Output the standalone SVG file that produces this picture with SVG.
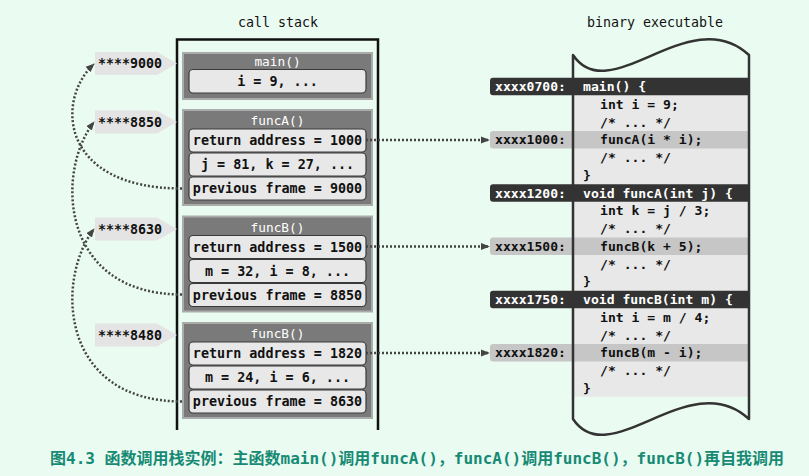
<svg xmlns="http://www.w3.org/2000/svg" width="809" height="476" viewBox="0 0 809 476">
<defs>
<marker id="arr" viewBox="0 0 10 10" refX="9" refY="5" markerWidth="9" markerHeight="9" markerUnits="userSpaceOnUse" orient="auto"><path d="M0,1 L10,5 L0,9 z" fill="#444"/></marker>
<style>
.m{font-family:"DejaVu Sans Mono","Liberation Mono",monospace}
.title{font-size:13.3px;fill:#111;text-anchor:middle}
.frame{fill:#7a7a7a;stroke:#ababab;stroke-width:2}
.hdr{font-size:12.8px;fill:#fff;text-anchor:middle}
.box{fill:#e8e8e8;stroke:#3a3a3a;stroke-width:1.2}
.row{font-size:13.4px;font-weight:bold;fill:#111;text-anchor:middle}
.lblbg{fill:#e4e4e4}
.lbl{font-size:13.3px;font-weight:bold;fill:#111}
.code{font-size:13.1px;font-weight:bold;fill:#111}
.w{fill:#fff}
.dark{fill:#333}
.hl{fill:#c6c6c6}
.dot{fill:none;stroke:#444;stroke-width:2.5;stroke-dasharray:2 2}
.cap{font-family:"DejaVu Sans Mono","Noto Sans CJK SC",monospace;font-size:16px;font-weight:bold;fill:#178a74}
</style>
</defs>
<rect width="809" height="476" fill="#eafbf2"/>

<text class="m title" x="278" y="27">call stack</text>
<text class="m title" x="655" y="27">binary executable</text>

<g id="stack-box">
<path d="M177,430 V39.5 H378 V430" fill="none" stroke="#111" stroke-width="2.5"/>
</g>

<g id="addr-9000"><polygon class="lblbg" points="95,52 157,52 177,63.5 157,75 95,75"/><text class="m lbl" x="98" y="68">****9000</text></g>
<g id="addr-8850"><polygon class="lblbg" points="95,110.5 157,110.5 177,122 157,133.5 95,133.5"/><text class="m lbl" x="98" y="126.5">****8850</text></g>
<g id="addr-8630"><polygon class="lblbg" points="95,217.5 157,217.5 177,229 157,240.5 95,240.5"/><text class="m lbl" x="98" y="233.5">****8630</text></g>
<g id="addr-8480"><polygon class="lblbg" points="95,323.5 157,323.5 177,335 157,346.5 95,346.5"/><text class="m lbl" x="98" y="339.5">****8480</text></g>

<g id="frame-main">
<rect class="frame" x="183" y="53" width="189" height="46"/>
<text class="m hdr" x="277.5" y="66">main()</text>
<rect class="box" x="189" y="69.5" width="177" height="23.5" rx="4"/>
<text class="m row" x="277.5" y="86">i = 9, ...</text>
</g>

<g id="frame-funcA">
<rect class="frame" x="183" y="110" width="189" height="95"/>
<text class="m hdr" x="277.5" y="125">funcA()</text>
<rect class="box" x="189" y="129" width="177" height="23" rx="4"/>
<text class="m row" x="277.5" y="145">return address = 1000</text>
<rect class="box" x="189" y="153" width="177" height="23" rx="4"/>
<text class="m row" x="277.5" y="169">j = 81, k = 27, ...</text>
<rect class="box" x="189" y="177" width="177" height="23" rx="4"/>
<text class="m row" x="277.5" y="193">previous frame = 9000</text>
</g>

<g id="frame-funcB">
<rect class="frame" x="183" y="216.5" width="189" height="95"/>
<text class="m hdr" x="277.5" y="231.5">funcB()</text>
<rect class="box" x="189" y="235.5" width="177" height="23" rx="4"/>
<text class="m row" x="277.5" y="251.5">return address = 1500</text>
<rect class="box" x="189" y="259.5" width="177" height="23" rx="4"/>
<text class="m row" x="277.5" y="275.5">m = 32, i = 8, ...</text>
<rect class="box" x="189" y="283.5" width="177" height="23" rx="4"/>
<text class="m row" x="277.5" y="299.5">previous frame = 8850</text>
</g>

<g id="frame-funcB2">
<rect class="frame" x="183" y="323" width="189" height="95"/>
<text class="m hdr" x="277.5" y="338">funcB()</text>
<rect class="box" x="189" y="342" width="177" height="23" rx="4"/>
<text class="m row" x="277.5" y="358">return address = 1820</text>
<rect class="box" x="189" y="366" width="177" height="23" rx="4"/>
<text class="m row" x="277.5" y="382">m = 24, i = 6, ...</text>
<rect class="box" x="189" y="390" width="177" height="23" rx="4"/>
<text class="m row" x="277.5" y="406">previous frame = 8630</text>
</g>

<g id="binary-executable">
<rect x="573" y="77.75" width="176" height="319" fill="#e8e8e8"/>
<path class="dark" d="M749,77.75 H493 a3,3 0 0 0 -3,3 V92.25 a3,3 0 0 0 3,3 H749 Z"/>
<path class="hl" d="M749,131 H493 a3,3 0 0 0 -3,3 V145.5 a3,3 0 0 0 3,3 H749 Z"/>
<path class="dark" d="M749,184.25 H493 a3,3 0 0 0 -3,3 V198.75 a3,3 0 0 0 3,3 H749 Z"/>
<path class="hl" d="M749,237.5 H493 a3,3 0 0 0 -3,3 V252 a3,3 0 0 0 3,3 H749 Z"/>
<path class="dark" d="M749,290.75 H493 a3,3 0 0 0 -3,3 V305.25 a3,3 0 0 0 3,3 H749 Z"/>
<path class="hl" d="M749,344 H493 a3,3 0 0 0 -3,3 V358.5 a3,3 0 0 0 3,3 H749 Z"/>
<path d="M573,419 V55 C610,110 690,0 749,55 V419 C690,364 610,474 573,419 Z" fill="none" stroke="#333" stroke-width="2.5" stroke-linejoin="round"/>
<text class="m code w" x="495" y="91">xxxx0700:</text><text class="m code w" x="583" y="91">main() {</text>
<text class="m code" x="600" y="108.75">int i = 9;</text>
<text class="m code" x="600" y="126.5">/* ... */</text>
<text class="m code" x="495" y="144.25">xxxx1000:</text><text class="m code" x="600" y="144.25">funcA(i * i);</text>
<text class="m code" x="600" y="162">/* ... */</text>
<text class="m code" x="583" y="179.75">}</text>
<text class="m code w" x="495" y="197.5">xxxx1200:</text><text class="m code w" x="583" y="197.5">void funcA(int j) {</text>
<text class="m code" x="600" y="215.25">int k = j / 3;</text>
<text class="m code" x="600" y="233">/* ... */</text>
<text class="m code" x="495" y="250.75">xxxx1500:</text><text class="m code" x="600" y="250.75">funcB(k + 5);</text>
<text class="m code" x="600" y="268.5">/* ... */</text>
<text class="m code" x="583" y="286.25">}</text>
<text class="m code w" x="495" y="304">xxxx1750:</text><text class="m code w" x="583" y="304">void funcB(int m) {</text>
<text class="m code" x="600" y="321.75">int i = m / 4;</text>
<text class="m code" x="600" y="339.5">/* ... */</text>
<text class="m code" x="495" y="357.25">xxxx1820:</text><text class="m code" x="600" y="357.25">funcB(m - i);</text>
<text class="m code" x="600" y="375">/* ... */</text>
<text class="m code" x="583" y="392.75">}</text>
</g>

<g id="connectors">
<path class="dot" d="M182,188.5 C60,188.5 55,100 94,64" marker-end="url(#arr)"/>
<path class="dot" d="M182,294.5 C60,294.5 55,172 94,122" marker-end="url(#arr)"/>
<path class="dot" d="M182,401.5 C60,401.5 55,280 94,229" marker-end="url(#arr)"/>
<path class="dot" d="M366,140 H489" marker-end="url(#arr)"/>
<path class="dot" d="M366,246.5 H489" marker-end="url(#arr)"/>
<path class="dot" d="M366,353 H489" marker-end="url(#arr)"/>
</g>

<text class="cap" x="50" y="464">图4.3 函数调用栈实例：主函数main()调用funcA()，funcA()调用funcB()，funcB()再自我调用</text>
</svg>
